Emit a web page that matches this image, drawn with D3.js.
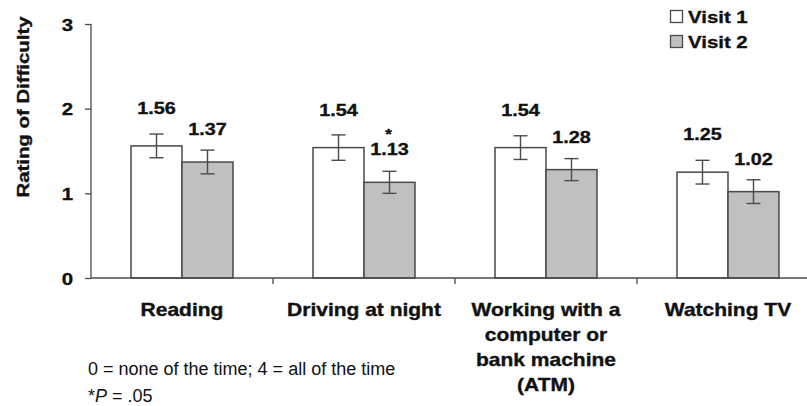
<!DOCTYPE html>
<html>
<head>
<meta charset="utf-8">
<script src="https://cdn.jsdelivr.net/npm/d3@7/dist/d3.min.js"></script>
<style>
  html, body { margin: 0; padding: 0; background: #fff; }
  svg { display: block; }
  text { font-family: "Liberation Sans", Arial, sans-serif; fill: #111; }
  text.bold { stroke: #111; stroke-width: 0.35px; }
</style>
</head>
<body>
<svg id="chart" width="807" height="406"></svg>
<script>
// Activity categories (line breaks mark wrapped labels)
const categories = [
  "Reading",
  "Driving at night",
  "Working with a\ncomputer or\nbank machine\n(ATM)",
  "Watching TV"
];
const seriesNames = ["Visit 1", "Visit 2"];
// Mean rating of difficulty per visit
const visit1 = [1.56, 1.54, 1.54, 1.25];
const visit2 = [1.37, 1.13, 1.28, 1.02];
// Error bar half-lengths
const visit1Err = [0.14, 0.15, 0.14, 0.14];
const visit2Err = [0.14, 0.13, 0.13, 0.14];
// Significance markers for visit 2
const visit2Sig = ["", "*", "", ""];
const yTicks = [0, 1, 2, 3];
const yTitle = "Rating of Difficulty";
const notes = ["0 = none of the time; 4 = all of the time"];

const svg = d3.select("#chart");
const STRETCH = 1.2;      // horizontally widened bold lettering
const ink = "#4a4a4a";

const x = d3.scaleBand().domain(categories).range([91, 819]).padding(0);
const xs = d3.scaleBand().domain(seriesNames).range([40, 142]).padding(0);
const y = d3.scaleLinear().domain([0, 3]).range([278, 24]);
const fills = { "Visit 1": "#ffffff", "Visit 2": "#c0c0c0" };

const rows = categories.map((c, i) => ({
  cat: c,
  bars: [
    { s: "Visit 1", v: visit1[i], e: visit1Err[i], sig: "" },
    { s: "Visit 2", v: visit2[i], e: visit2Err[i], sig: visit2Sig[i] }
  ]
}));

// helper: bold stretched text anchored at (px, py)
function wideText(parent, px, py, str, size, anchor, extra) {
  const g = parent.append("g").attr("transform", `translate(${px},${py})${extra || ""}`);
  g.append("text")
    .attr("class", "bold")
    .attr("transform", `scale(${STRETCH},1)`)
    .attr("text-anchor", anchor)
    .style("font-size", size + "px")
    .style("font-weight", "bold")
    .text(str);
  return g;
}

// Y axis
const yAxis = svg.append("g")
  .attr("transform", "translate(91,0)")
  .call(d3.axisLeft(y).tickValues(yTicks).tickSize(6).tickFormat(d3.format("d")));
yAxis.selectAll("path, line").attr("stroke", ink).attr("stroke-width", 1.3);
yAxis.select(".domain").attr("d", `M0,${y(3)}V${y(0)}`);
yAxis.selectAll(".tick text")
  .attr("class", "bold")
  .attr("x", -18 / STRETCH)
  .attr("dy", "0.36em")
  .attr("transform", `scale(${STRETCH},1)`)
  .style("font-size", "17px")
  .style("font-weight", "bold")
  .style("font-family", "Liberation Sans, Arial, sans-serif")
  .attr("fill", "#111");

// Y title
wideText(svg, 29, 107, yTitle, 17, "middle", " rotate(-90)");

// Bars
const groups = svg.append("g").selectAll("g.cat").data(rows).join("g")
  .attr("class", "cat")
  .attr("transform", d => `translate(${x(d.cat)},0)`);

groups.selectAll("rect").data(d => d.bars).join("rect")
  .attr("x", d => xs(d.s))
  .attr("y", d => y(d.v))
  .attr("width", xs.bandwidth())
  .attr("height", d => y(0) - y(d.v))
  .attr("fill", d => fills[d.s])
  .attr("stroke", ink)
  .attr("stroke-width", 1.5);

// Error bars
const err = groups.selectAll("g.err").data(d => d.bars).join("g").attr("class", "err")
  .attr("stroke", ink).attr("stroke-width", 1.4);
err.append("line")
  .attr("x1", d => xs(d.s) + xs.bandwidth() / 2).attr("x2", d => xs(d.s) + xs.bandwidth() / 2)
  .attr("y1", d => y(d.v + d.e)).attr("y2", d => y(d.v - d.e));
err.append("line")
  .attr("x1", d => xs(d.s) + xs.bandwidth() / 2 - 7).attr("x2", d => xs(d.s) + xs.bandwidth() / 2 + 7)
  .attr("y1", d => y(d.v + d.e)).attr("y2", d => y(d.v + d.e));
err.append("line")
  .attr("x1", d => xs(d.s) + xs.bandwidth() / 2 - 7).attr("x2", d => xs(d.s) + xs.bandwidth() / 2 + 7)
  .attr("y1", d => y(d.v - d.e)).attr("y2", d => y(d.v - d.e));

// Value labels
groups.each(function (d) {
  const g = d3.select(this);
  d.bars.forEach(b => {
    const cx = xs(b.s) + xs.bandwidth() / 2;
    const by = y(b.v) - (b.s === "Visit 1" ? 32 : 27);
    wideText(g, cx, by, b.v.toFixed(2), 16.5, "middle");
    if (b.sig) wideText(g, cx - 1, by - 16, b.sig, 14, "middle");
  });
});

// X axis line and category boundary ticks
const xAxis = svg.append("g").attr("stroke", ink).attr("stroke-width", 1.3);
xAxis.append("line").attr("x1", 91).attr("x2", 819).attr("y1", y(0)).attr("y2", y(0));
xAxis.selectAll("line.tk").data(categories.slice(1)).join("line").attr("class", "tk")
  .attr("x1", d => x(d)).attr("x2", d => x(d))
  .attr("y1", y(0)).attr("y2", y(0) + 6);

// Category labels
categories.forEach(c => {
  const lines = c.split("\n");
  const cx = x(c) + x.bandwidth() / 2;
  lines.forEach((ln, i) => wideText(svg, cx, 316 + i * 25, ln, 17.5, "middle"));
});

// Legend
const legend = svg.append("g");
seriesNames.forEach((s, i) => {
  const ly = 10 + i * 25;
  legend.append("rect").attr("x", 670.5).attr("y", ly + 0.5).attr("width", 12).attr("height", 12)
    .attr("fill", fills[s]).attr("stroke", ink).attr("stroke-width", 1.3);
  wideText(legend, 688, ly + 13, s, 17, "start");
});

// Footnotes
svg.append("text").attr("x", 88).attr("y", 375)
  .style("font-size", "18px").text(notes[0]);
const p = svg.append("text").attr("x", 88).attr("y", 402).style("font-size", "18px");
p.append("tspan").text("*");
p.append("tspan").style("font-style", "italic").text("P");
p.append("tspan").text(" = .05");
</script>
</body>
</html>
